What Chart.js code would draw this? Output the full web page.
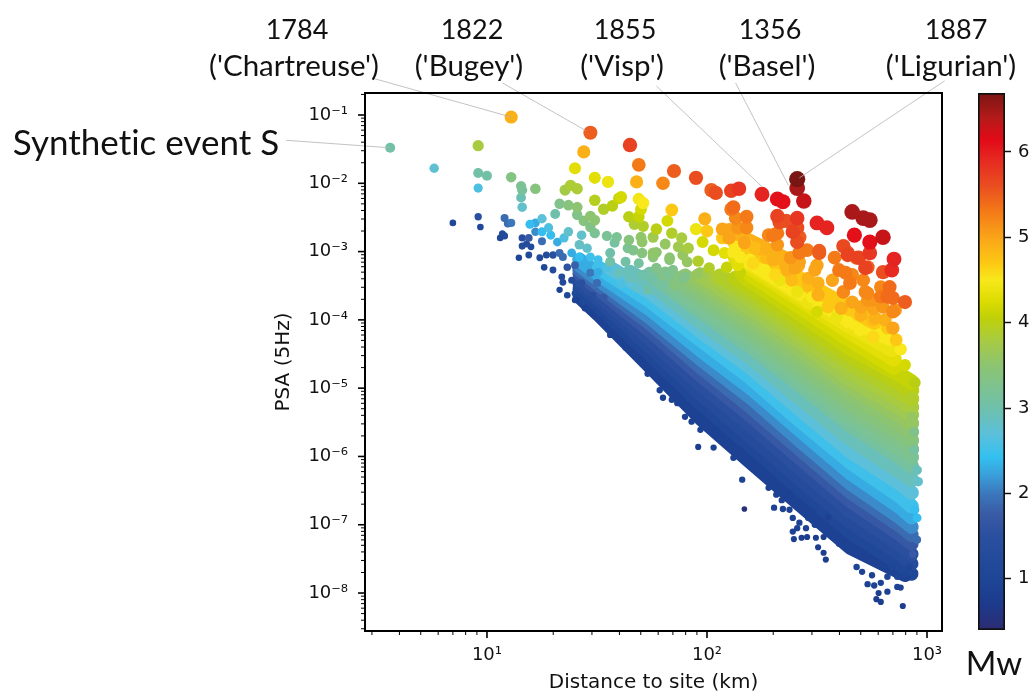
<!DOCTYPE html>
<html>
<head>
<meta charset="utf-8">
<title>PSA vs distance</title>
<script src="https://cdn.jsdelivr.net/npm/chart.js@4/dist/chart.umd.min.js"></script>
<style>
    html, body { margin: 0; padding: 0; background: #fff; }
    #page { position: relative; width: 1034px; height: 695px; overflow: hidden; }
    #grafico { position: absolute; left: 0; top: 0; }
    #barra { position: absolute; left: 960px; top: 0; }
    .nota { position: absolute; font-family: "Lato", sans-serif; font-size: 27px; color: #111; white-space: nowrap; transform: translate(-50%, -50%); line-height: 1; font-variant-ligatures: none; }
    .nome { font-size: 29.5px; }
</style>
</head>
<body>
<div id="page">
    <canvas id="grafico" width="1034" height="695"></canvas>
    <canvas id="barra" width="74" height="695"></canvas>
    <div class="nota" style="left:297px;top:28px">1784</div>
    <div class="nota nome" style="left:294px;top:65px">('Chartreuse')</div>
    <div class="nota" style="left:472px;top:28px">1822</div>
    <div class="nota nome" style="left:469px;top:65px">('Bugey')</div>
    <div class="nota" style="left:625px;top:28px">1855</div>
    <div class="nota nome" style="left:622px;top:65px">('Visp')</div>
    <div class="nota" style="left:770px;top:28px">1356</div>
    <div class="nota nome" style="left:767px;top:65px">('Basel')</div>
    <div class="nota" style="left:956px;top:28px">1887</div>
    <div class="nota nome" style="left:951px;top:65px">('Ligurian')</div>
    <div class="nota" style="left:146px;top:141px;font-size:35px">Synthetic event S</div>
    <div class="nota" style="left:994px;top:662px;font-size:33px">Mw</div>
</div>
<script>
// values, in decades (log10 of km and of PSA)
const xDecades = [1, 2, 3];
const xTickLabels = ['10¹', '10²', '10³'];
const yDecades = [-1, -2, -3, -4, -5, -6, -7, -8];
const yTickLabels = ['10⁻¹', '10⁻²', '10⁻³', '10⁻⁴', '10⁻⁵', '10⁻⁶', '10⁻⁷', '10⁻⁸'];
const mwTicks = [1, 2, 3, 4, 5, 6];

// colour bar stops
const cmapMw = [0.40, 0.70, 1.00, 1.50, 1.75, 2.00, 2.20, 2.42, 2.70, 3.00, 3.50, 3.80, 4.05, 4.25, 4.50, 4.70, 5.00, 5.30, 5.60, 5.90, 6.14, 6.40, 6.69];
const cmapColor = ['#2d2b72', '#1d3a8c', '#1e4696', '#2a4f9f', '#3a5aa5', '#3b78bb', '#3a9cd8', '#33c0f0', '#5cc0da', '#6fc0ab', '#8cc472', '#a8cb40', '#bfd009', '#dcdc00', '#f8e81c', '#fdc813', '#faa419', '#f47a17', '#ea4e20', '#e62a22', '#e20a17', '#b41a1a', '#7a1612'];

// the packed part of the cloud, one ridge of events per magnitude
const bandMw = [0.9, 1.1, 1.3, 1.5, 1.7, 1.9, 2.1, 2.3, 2.5, 2.7, 2.9, 3.1, 3.2, 3.3, 3.4, 3.5, 3.6, 3.7, 3.8, 3.9, 4.0, 4.1, 4.2, 4.3, 4.4, 4.5, 4.7, 4.9];
const bandLogDist = [
    [1.42, 1.51, 1.74, 1.97, 2.20, 2.42, 2.65, 2.90],
    [1.42, 1.51, 1.74, 1.97, 2.20, 2.42, 2.65, 2.88, 2.93],
    [1.42, 1.51, 1.74, 1.97, 2.20, 2.42, 2.65, 2.88, 2.93],
    [1.42, 1.51, 1.74, 1.97, 2.20, 2.42, 2.65, 2.88, 2.93],
    [1.42, 1.51, 1.74, 1.97, 2.20, 2.42, 2.65, 2.88, 2.93],
    [1.42, 1.51, 1.74, 1.97, 2.20, 2.42, 2.65, 2.88, 2.93],
    [1.42, 1.51, 1.74, 1.97, 2.20, 2.42, 2.65, 2.88, 2.93],
    [1.42, 1.51, 1.74, 1.97, 2.20, 2.42, 2.65, 2.88, 2.93],
    [1.51, 1.74, 1.97, 2.20, 2.42, 2.65, 2.88, 2.93],
    [1.56, 1.74, 1.97, 2.20, 2.42, 2.65, 2.88, 2.93],
    [1.65, 1.74, 1.97, 2.20, 2.42, 2.65, 2.88, 2.93],
    [1.74, 1.97, 2.20, 2.42, 2.65, 2.88, 2.93],
    [1.79, 1.97, 2.20, 2.42, 2.65, 2.88, 2.93],
    [1.81, 1.97, 2.20, 2.42, 2.65, 2.88, 2.93],
    [1.88, 1.97, 2.20, 2.42, 2.65, 2.88, 2.93],
    [1.90, 1.97, 2.20, 2.42, 2.65, 2.88, 2.93],
    [1.95, 1.97, 2.20, 2.42, 2.65, 2.88, 2.93],
    [1.97, 2.20, 2.42, 2.65, 2.88, 2.93],
    [2.04, 2.20, 2.42, 2.65, 2.88, 2.93],
    [2.06, 2.20, 2.42, 2.65, 2.88, 2.93],
    [2.13, 2.20, 2.42, 2.65, 2.88, 2.93],
    [2.17, 2.20, 2.42, 2.65, 2.88, 2.93],
    [2.20, 2.42, 2.65, 2.85],
    [2.13, 2.20, 2.42, 2.65, 2.85],
    [2.17, 2.42, 2.65, 2.84],
    [2.17, 2.42, 2.65, 2.83],
    [2.13, 2.28, 2.46, 2.62, 2.76],
    [2.10, 2.29, 2.41]
];
const bandLogPsa = [
    [-3.67, -3.94, -4.69, -5.45, -6.10, -6.71, -7.34, -7.74],
    [-3.55, -3.81, -4.51, -5.23, -5.86, -6.48, -7.11, -7.59, -7.72],
    [-3.47, -3.72, -4.40, -5.09, -5.72, -6.33, -6.96, -7.44, -7.57],
    [-3.40, -3.65, -4.28, -4.95, -5.55, -6.17, -6.80, -7.30, -7.43],
    [-3.32, -3.56, -4.16, -4.81, -5.41, -6.02, -6.65, -7.15, -7.28],
    [-3.26, -3.49, -4.05, -4.69, -5.28, -5.89, -6.52, -7.02, -7.15],
    [-3.20, -3.42, -3.96, -4.57, -5.14, -5.76, -6.39, -6.90, -7.03],
    [-3.12, -3.34, -3.84, -4.44, -5.00, -5.61, -6.24, -6.75, -6.89],
    [-3.24, -3.72, -4.29, -4.85, -5.47, -6.08, -6.59, -6.73],
    [-3.24, -3.59, -4.16, -4.70, -5.30, -5.92, -6.40, -6.53],
    [-3.30, -3.47, -4.03, -4.56, -5.14, -5.74, -6.23, -6.34],
    [-3.33, -3.88, -4.40, -4.95, -5.54, -6.02, -6.14],
    [-3.39, -3.79, -4.30, -4.85, -5.43, -5.90, -6.01],
    [-3.33, -3.69, -4.21, -4.75, -5.32, -5.77, -5.89],
    [-3.39, -3.61, -4.11, -4.65, -5.21, -5.66, -5.77],
    [-3.36, -3.52, -4.02, -4.54, -5.09, -5.54, -5.64],
    [-3.39, -3.43, -3.92, -4.43, -4.97, -5.41, -5.52],
    [-3.34, -3.83, -4.32, -4.87, -5.29, -5.39],
    [-3.39, -3.72, -4.22, -4.75, -5.17, -5.28],
    [-3.36, -3.62, -4.12, -4.63, -5.06, -5.16],
    [-3.39, -3.53, -4.01, -4.52, -4.93, -5.03],
    [-3.37, -3.43, -3.90, -4.41, -4.81, -4.91],
    [-3.34, -3.80, -4.29, -4.69],
    [-3.09, -3.24, -3.69, -4.18, -4.57],
    [-3.12, -3.63, -4.09, -4.43],
    [-3.09, -3.59, -4.00, -4.26],
    [-2.87, -3.09, -3.49, -3.78, -4.03],
    [-2.71, -3.01, -3.20]
];

// single events that stand out from the cloud, ten per row
const eventMw = [
    3.05, 2.75, 3.8, 3.05, 3.05, 2.6, 3.35, 3.2, 3.15, 3.4,
    2.95, 2.8, 1.1, 1.5, 1.1, 1.9, 1.9, 2.0, 1.3, 1.3,
    1.1, 1.4, 1.7, 1.3, 1.3, 1.2, 1.9, 1.0, 1.2, 2.4,
    2.3, 2.7, 2.1, 2.4, 2.6, 2.4, 2.3, 2.6, 2.8, 2.8,
    3.0, 3.3, 3.4, 3.5, 3.3, 3.75, 3.85, 3.85, 3.95, 3.9,
    4.0, 4.1, 4.2, 4.0, 4.1, 3.85, 3.9, 4.45, 4.5, 4.2,
    4.0, 3.5, 3.4, 3.5, 3.3, 3.2, 3.2, 3.2, 3.4, 3.55,
    3.55, 3.7, 3.1, 3.2, 3.4, 3.55, 3.0, 3.05, 3.1, 2.85,
    2.8, 2.5, 2.4, 2.3, 1.9, 1.5, 1.3, 1.2, 1.1, 1.2,
    2.95, 3.05, 2.7, 4.9, 5.5, 5.7, 4.9, 5.3, 4.3, 4.3,
    4.4, 4.9, 5.5, 5.2, 5.6, 5.5, 5.6, 5.7, 5.8, 5.95,
    6.1, 6.1, 6.3, 6.45, 6.69, 6.45, 6.45, 6.45, 5.95, 5.95,
    6.1, 6.1, 6.3, 5.65, 5.8, 5.95, 5.5, 5.3, 5.6, 5.5,
    5.5, 5.6, 5.9, 5.3, 5.2, 5.2, 5.2, 5.4, 5.0, 5.0,
    5.0, 4.9, 5.3, 5.3, 5.5, 5.6, 5.8, 5.7, 5.6, 5.6,
    5.3, 5.2, 5.1, 4.9, 4.9, 4.8, 4.9, 4.7, 4.5, 4.4,
    5.4, 5.3, 5.3, 5.2, 5.2, 5.1, 5.0, 5.0, 4.9, 4.7,
    4.2, 4.4, 4.7, 4.2, 4.2, 4.7, 4.3, 4.5, 4.7, 4.8,
    4.5, 4.5, 4.1, 4.1, 3.9, 3.9, 3.6, 3.3, 3.9, 3.8,
    3.8, 3.6, 3.7, 3.6, 3.4, 3.3, 5.5, 5.2, 5.1, 5.0,
    4.9, 4.7, 5.2, 5.2, 5.4, 4.9, 4.8, 5.0, 4.5, 4.5,
    4.6, 4.7, 4.5, 4.4, 4.2, 4.4, 4.4, 4.9, 4.8, 4.2,
    4.0, 3.9, 3.6, 3.3, 3.1, 2.9, 2.8, 2.4, 2.4, 1.9,
    1.7, 1.0, 0.9, 0.9, 0.8, 0.8, 0.8, 0.8, 0.9, 1.0,
    0.9, 0.9, 0.8, 0.8, 0.8, 0.8, 0.8, 0.8, 0.8, 0.8,
    0.9, 0.9, 0.9, 0.9, 0.9, 0.9, 0.9, 0.5, 0.9, 0.9,
    0.9, 0.9, 0.9, 0.9, 0.9, 0.9, 1.0, 1.0, 1.0, 1.0,
    0.9, 0.9, 0.9, 0.9, 0.9, 0.8, 0.9, 0.9, 0.9, 0.9,
    0.9, 0.9, 0.9, 0.9, 0.9, 0.9,
    5.3, 5.5, 5.7, 5.7, 5.7, 5.3, 5.3, 5.2, 5.4, 5.3,
    5.1, 5.0, 5.0, 5.1, 5.1, 4.9, 4.9, 4.7, 4.9, 4.9,
    5.0, 4.5, 4.7, 5.0, 5.0, 5.3, 5.7, 5.6, 5.1, 5.0,
    4.9, 4.8, 4.6, 4.8, 4.5, 4.6, 4.3, 1.9, 1.2, 1.2,
    1.6, 1.8, 1.1, 1.1, 1.1, 1.3, 1.5, 2.0, 2.3, 2.5,
    2.6, 1.9, 1.7, 1.4, 0.9, 0.9, 0.9, 0.9, 0.9, 0.9,
    0.9, 0.9, 0.9,
    3.5, 3.6, 3.5, 3.3, 3.2, 3.3, 3.3, 3.45, 2.9, 2.9,
    3.0, 2.8, 3.0, 3.1, 3.4, 3.05, 2.6
];
const eventLogDist = [
    0.56, 0.76, 0.96, 0.96, 1.00, 0.96, 1.11, 1.155, 1.16, 1.22,
    1.155, 1.16, 0.845, 0.96, 0.97, 1.08, 1.095, 1.11, 1.07, 1.08,
    1.06, 1.16, 1.19, 1.18, 1.16, 1.20, 1.25, 1.145, 1.19, 1.195,
    1.22, 1.25, 1.22, 1.25, 1.28, 1.29, 1.32, 1.35, 1.37, 1.43,
    1.31, 1.33, 1.37, 1.41, 1.41, 1.355, 1.38, 1.41, 1.49, 1.53,
    1.57, 1.60, 1.61, 1.645, 1.69, 1.67, 1.71, 1.69, 1.71, 1.70,
    1.77, 1.47, 1.44, 1.49, 1.47, 1.49, 1.545, 1.59, 1.645, 1.70,
    1.705, 1.755, 1.58, 1.64, 1.705, 1.755, 1.56, 1.63, 1.69, 1.42,
    1.455, 1.47, 1.42, 1.385, 1.33, 1.30, 1.27, 1.24, 1.26, 1.345,
    1.70, 1.755, 1.59, 1.11, 1.47, 1.65, 1.44, 1.69, 1.40, 1.49,
    1.55, 1.68, 1.85, 1.80, 1.95, 2.02, 2.04, 2.11, 2.145, 2.25,
    2.32, 2.345, 2.44, 2.41, 2.41, 2.66, 2.71, 2.74, 2.50, 2.545,
    2.67, 2.74, 2.80, 2.62, 2.74, 2.85, 2.51, 2.58, 2.64, 2.68,
    2.73, 2.80, 2.84, 2.60, 2.66, 2.71, 2.79, 2.83, 2.57, 2.50,
    2.49, 2.505, 2.455, 2.42, 2.42, 2.41, 2.41, 2.32, 2.33, 2.36,
    2.32, 2.28, 2.32, 2.27, 2.30, 2.355, 2.41, 2.39, 2.26, 2.33,
    2.12, 2.11, 2.18, 2.13, 2.18, 2.14, 2.07, 2.10, 1.99, 1.84,
    1.82, 1.95, 2.00, 1.98, 2.03, 2.07, 2.08, 2.13, 2.18, 2.22,
    2.15, 2.195, 2.09, 2.15, 1.96, 2.01, 1.955, 1.89, 1.84, 1.885,
    1.915, 1.81, 1.87, 1.91, 1.83, 1.845, 2.90, 2.845, 2.755, 2.66,
    2.61, 2.55, 2.62, 2.73, 2.82, 2.70, 2.755, 2.845, 2.64, 2.695,
    2.755, 2.86, 2.88, 2.59, 2.50, 2.455, 2.41, 2.505, 2.46, 2.90,
    2.945, 2.93, 2.93, 2.94, 2.94, 2.955, 2.96, 2.945, 2.955, 2.955,
    2.935, 2.92, 2.91, 2.88, 2.89, 2.78, 2.77, 2.79, 2.73, 2.68,
    2.60, 2.61, 2.505, 2.53, 2.54, 2.495, 2.53, 2.395, 2.43, 2.455,
    2.39, 2.41, 2.45, 2.305, 2.345, 2.39, 2.42, 2.17, 2.16, 2.23,
    2.28, 2.315, 2.34, 2.375, 2.82, 2.865, 2.865, 2.90, 2.82, 2.84,
    1.73, 1.80, 1.865, 1.90, 1.93, 1.96, 2.03, 2.12, 1.785, 1.84,
    1.97, 1.33, 1.40, 1.445, 1.56, 1.63,
    2.42, 2.51, 2.64, 2.69, 2.72, 2.63, 2.65, 2.72, 2.845, 2.79,
    2.73, 2.70, 2.755, 2.80, 2.855, 2.765, 2.81, 2.505, 2.36, 2.46,
    2.42, 2.48, 2.82, 2.10, 2.17, 2.30, 2.39, 2.41, 2.38, 2.40,
    2.365, 2.27, 2.31, 2.385, 2.12, 2.21, 2.14, 1.345, 1.30, 1.34,
    1.365, 1.40, 1.365, 1.40, 1.435, 1.385, 1.43, 1.47, 1.505, 1.505,
    1.545, 1.50, 1.53, 1.48, 2.46, 2.49, 2.52, 2.55, 2.48, 2.76,
    2.79, 2.705, 2.75,
    1.77, 1.89, 1.83, 1.90, 1.83, 1.77, 1.665, 1.755, 1.60, 1.65,
    1.71, 1.68, 1.73, 1.80, 1.855, 1.56, 1.61
];
const eventLogPsa = [
    -1.48, -1.78, -1.45, -1.85, -1.89, -2.07, -1.91, -2.04, -2.10, -2.08,
    -2.21, -2.35, -2.58, -2.49, -2.64, -2.51, -2.59, -2.58, -2.74, -2.77,
    -2.80, -2.80, -2.80, -2.89, -2.92, -2.93, -2.85, -3.09, -3.05, -2.60,
    -2.58, -2.52, -2.71, -2.71, -2.65, -2.76, -2.86, -2.80, -2.71, -2.76,
    -2.45, -2.30, -2.32, -2.35, -2.46, -2.10, -2.03, -2.08, -2.25, -2.38,
    -2.33, -2.22, -2.20, -2.49, -2.49, -2.60, -2.63, -2.23, -2.29, -2.38,
    -2.67, -2.48, -2.55, -2.54, -2.64, -2.73, -2.77, -2.79, -2.83, -2.79,
    -2.86, -2.79, -2.87, -2.95, -3.02, -3.02, -3.02, -3.15, -3.17, -2.90,
    -2.95, -3.08, -3.08, -3.02, -3.02, -3.05, -3.05, -3.09, -3.23, -3.45,
    -3.34, -3.42, -3.30, -1.03, -1.26, -1.44, -1.54, -1.73, -1.78, -1.92,
    -1.98, -1.98, -1.82, -2.00, -1.92, -2.10, -2.14, -2.11, -2.08, -2.16,
    -2.23, -2.27, -2.26, -2.07, -1.94, -2.42, -2.51, -2.54, -2.58, -2.65,
    -2.76, -2.86, -2.79, -2.92, -3.02, -3.11, -2.99, -3.09, -3.02, -3.09,
    -3.23, -3.30, -3.27, -3.27, -3.34, -3.42, -3.52, -3.52, -3.42, -3.20,
    -3.27, -3.46, -2.98, -3.01, -2.79, -2.65, -2.51, -2.48, -2.57, -2.55,
    -2.73, -2.76, -2.90, -2.96, -3.12, -3.20, -3.20, -3.39, -3.27, -3.42,
    -2.35, -2.38, -2.49, -2.51, -2.65, -2.65, -2.67, -2.68, -2.52, -2.39,
    -2.55, -2.67, -2.70, -2.86, -2.98, -2.80, -3.02, -2.93, -2.89, -2.95,
    -3.08, -3.12, -3.23, -3.31, -3.14, -3.24, -3.33, -3.39, -2.73, -2.80,
    -2.95, -2.89, -2.93, -3.15, -3.12, -3.27, -3.74, -3.88, -3.71, -3.74,
    -3.83, -3.81, -3.59, -3.61, -3.66, -3.93, -4.00, -4.12, -4.03, -4.15,
    -4.25, -4.29, -4.43, -3.96, -3.88, -3.75, -3.59, -3.63, -3.49, -4.66,
    -4.92, -5.13, -5.42, -5.64, -5.91, -6.20, -6.37, -6.78, -6.90, -7.22,
    -7.43, -7.62, -7.78, -7.92, -8.19, -8.00, -8.09, -8.13, -7.87, -7.62,
    -7.28, -7.22, -7.33, -7.41, -7.51, -7.19, -7.18, -7.21, -7.19, -7.18,
    -7.10, -7.05, -7.05, -6.75, -6.77, -6.90, -6.97, -6.77, -6.34, -6.24,
    -6.46, -6.56, -6.64, -6.78, -7.98, -7.91, -7.76, -7.73, -7.76, -7.62,
    -4.79, -5.14, -5.22, -5.42, -5.49, -5.86, -5.87, -6.02, -5.03, -5.17,
    -5.61, -3.56, -3.71, -3.83, -4.22, -4.41,
    -3.02, -3.02, -3.05, -3.09, -3.24, -3.31, -3.46, -3.59, -3.68, -3.66,
    -3.71, -3.81, -3.83, -3.81, -3.86, -3.97, -4.00, -3.64, -3.20, -3.39,
    -3.15, -3.67, -4.12, -2.80, -2.87, -2.76, -2.71, -2.86, -3.09, -3.24,
    -3.27, -3.09, -3.34, -3.42, -3.01, -3.17, -3.20, -3.08, -3.27, -3.37,
    -3.23, -3.20, -3.64, -3.61, -3.74, -3.42, -3.46, -3.31, -3.30, -3.12,
    -3.23, -3.46, -3.67, -3.64, -6.90, -7.00, -7.00, -6.89, -6.81, -7.89,
    -7.85, -7.69, -7.74,
    -3.01, -3.05, -3.09, -3.37, -3.31, -3.24, -2.98, -3.08, -3.31, -3.39,
    -3.34, -3.53, -3.56, -3.49, -3.49, -3.15, -3.47
];

// leader lines from the labels to their events
const leaderLogDist = [[0.477, 1.11], [1.07, 1.45], [1.77, 2.25], [2.13, 2.37], [3.08, 2.42], [0.086, 0.56]];
const leaderLogPsa = [[-0.458, -1.03], [-0.53, -1.23], [-0.575, -2.05], [-0.53, -2.03], [-0.50, -1.92], [-1.37, -1.48]];

function hexToRgb(h) {
    return [1, 3, 5].map(i => parseInt(h.substr(i, 2), 16));
}

function corMw(m) {
    if (m <= cmapMw[0]) return cmapColor[0];
    for (let i = 1; i < cmapMw.length; i++) {
        if (m <= cmapMw[i]) {
            const t = (m - cmapMw[i - 1]) / (cmapMw[i] - cmapMw[i - 1]);
            const a = hexToRgb(cmapColor[i - 1]);
            const b = hexToRgb(cmapColor[i]);
            return 'rgb(' + a.map((v, k) => Math.round(v + (b[k] - v) * t)).join(',') + ')';
        }
    }
    return cmapColor[cmapColor.length - 1];
}

function pontos(logX, logY) {
    return logX.map((v, i) => ({ x: Math.pow(10, v), y: Math.pow(10, logY[i]) }));
}

function ticksLog(decadas) {
    // decade marks plus the 2..9 minor marks between them
    const lista = [];
    decadas.forEach(d => {
        for (let k = 1; k <= 9; k++) {
            lista.push({ value: k * Math.pow(10, d), major: k === 1 });
        }
    });
    return lista;
}

const xMin = 2.79, xMax = 1170, yMin = 2.78e-9, yMax = 0.21;

// small events first so the large ones stay on top
const ordem = eventMw.map((m, i) => i).sort((a, b) => eventMw[a] - eventMw[b]);

const datasets = [];
leaderLogDist.forEach((lx, i) => {
    datasets.push({
        data: pontos(lx, leaderLogPsa[i]),
        showLine: true,
        borderColor: '#b4b4b4',
        borderWidth: 0.8,
        pointRadius: 0,
        clip: false,
        order: 0
    });
});
datasets.push({
    data: pontos(ordem.map(i => eventLogDist[i]), ordem.map(i => eventLogPsa[i])),
    pointBackgroundColor: ordem.map(i => corMw(eventMw[i])),
    pointRadius: ordem.map(i => 2.4 + 0.85 * eventMw[i]),
    pointBorderWidth: 0,
    order: 1
});
bandMw.forEach((m, i) => {
    datasets.push({
        data: pontos(bandLogDist[i], bandLogPsa[i]),
        showLine: true,
        borderColor: corMw(m),
        borderWidth: 13 + 0.6 * m,
        borderCapStyle: 'round',
        borderJoinStyle: 'round',
        pointRadius: 0,
        order: 100 - i
    });
});

// matplotlib style frame and tick marks
const moldura = {
    id: 'moldura',
    afterDraw(chart) {
        const c = chart.ctx, a = chart.chartArea;
        c.save();
        c.strokeStyle = '#000';
        c.lineWidth = 2;
        c.strokeRect(a.left, a.top, a.right - a.left, a.bottom - a.top);
        chart.scales.x.ticks.forEach(t => {
            const p = chart.scales.x.getPixelForValue(t.value);
            if (p < a.left || p > a.right) return;
            c.lineWidth = t.major ? 1.6 : 1;
            c.beginPath();
            c.moveTo(p, a.bottom);
            c.lineTo(p, a.bottom + (t.major ? 7 : 4));
            c.stroke();
        });
        chart.scales.y.ticks.forEach(t => {
            const p = chart.scales.y.getPixelForValue(t.value);
            if (p < a.top || p > a.bottom) return;
            c.lineWidth = t.major ? 1.6 : 1;
            c.beginPath();
            c.moveTo(a.left, p);
            c.lineTo(a.left - (t.major ? 7 : 4), p);
            c.stroke();
        });
        c.restore();
    }
};

const fonteEixo = { family: '"DejaVu Sans"', size: 18 };
const fonteTitulo = { family: '"DejaVu Sans"', size: 20 };

new Chart(document.getElementById('grafico').getContext('2d'), {
    type: 'scatter',
    data: { datasets: datasets },
    plugins: [moldura],
    options: {
        responsive: false,
        animation: false,
        events: [],
        layout: { padding: { left: 272, right: 92, top: 93, bottom: 0 } },
        plugins: { legend: { display: false }, tooltip: { enabled: false } },
        scales: {
            x: {
                type: 'logarithmic',
                min: xMin,
                max: xMax,
                grid: { display: false },
                border: { display: false },
                afterBuildTicks(axis) { axis.ticks = ticksLog([0, 1, 2, 3]).filter(t => t.value >= xMin && t.value <= xMax); },
                afterFit(axis) { axis.height = 64; },
                ticks: {
                    autoSkip: false,
                    maxRotation: 0,
                    padding: 6,
                    color: '#111',
                    font: fonteEixo,
                    callback(v, i, ticks) {
                        const k = xDecades.findIndex(d => Math.abs(Math.log10(v) - d) < 1e-6);
                        return k >= 0 ? xTickLabels[k] : '';
                    }
                },
                title: { display: true, text: 'Distance to site (km)', color: '#111', font: fonteTitulo, padding: { top: 4, bottom: 0 } }
            },
            y: {
                type: 'logarithmic',
                min: yMin,
                max: yMax,
                grid: { display: false },
                border: { display: false },
                afterBuildTicks(axis) { axis.ticks = ticksLog([-9, -8, -7, -6, -5, -4, -3, -2, -1]).filter(t => t.value >= yMin && t.value <= yMax); },
                afterFit(axis) { axis.width = 93; },
                ticks: {
                    autoSkip: false,
                    padding: 9,
                    color: '#111',
                    font: fonteEixo,
                    callback(v, i, ticks) {
                        const k = yDecades.findIndex(d => Math.abs(Math.log10(v) - d) < 1e-6);
                        return k >= 0 ? yTickLabels[k] : '';
                    }
                },
                title: { display: true, text: 'PSA (5Hz)', color: '#111', font: fonteTitulo, padding: { top: 0, bottom: 0 } }
            }
        }
    }
});

// colour bar: one floating bar filled with the stops
new Chart(document.getElementById('barra').getContext('2d'), {
    type: 'bar',
    data: {
        labels: ['Mw'],
        datasets: [{
            data: [[cmapMw[0], cmapMw[cmapMw.length - 1]]],
            categoryPercentage: 1,
            barPercentage: 1,
            borderColor: '#111',
            borderWidth: 2,
            borderSkipped: false,
            backgroundColor(ctx) {
                const area = ctx.chart.chartArea;
                if (!area) return '#888';
                const g = ctx.chart.ctx.createLinearGradient(0, area.bottom, 0, area.top);
                const span = cmapMw[cmapMw.length - 1] - cmapMw[0];
                cmapMw.forEach((m, i) => g.addColorStop((m - cmapMw[0]) / span, cmapColor[i]));
                return g;
            }
        }]
    },
    options: {
        responsive: false,
        animation: false,
        events: [],
        layout: { padding: { left: 18, right: 0, top: 93, bottom: 65 } },
        plugins: { legend: { display: false }, tooltip: { enabled: false } },
        scales: {
            x: { display: false },
            y: {
                position: 'right',
                min: cmapMw[0],
                max: cmapMw[cmapMw.length - 1],
                afterBuildTicks(axis) { axis.ticks = mwTicks.map(v => ({ value: v })); },
                afterFit(axis) { axis.width = 29; },
                grid: { drawOnChartArea: false, tickLength: 6, tickColor: '#111', tickWidth: 1.5 },
                border: { display: false },
                ticks: { padding: 7, color: '#111', font: fonteEixo, callback: v => String(v) }
            }
        }
    }
});
</script>
</body>
</html>
